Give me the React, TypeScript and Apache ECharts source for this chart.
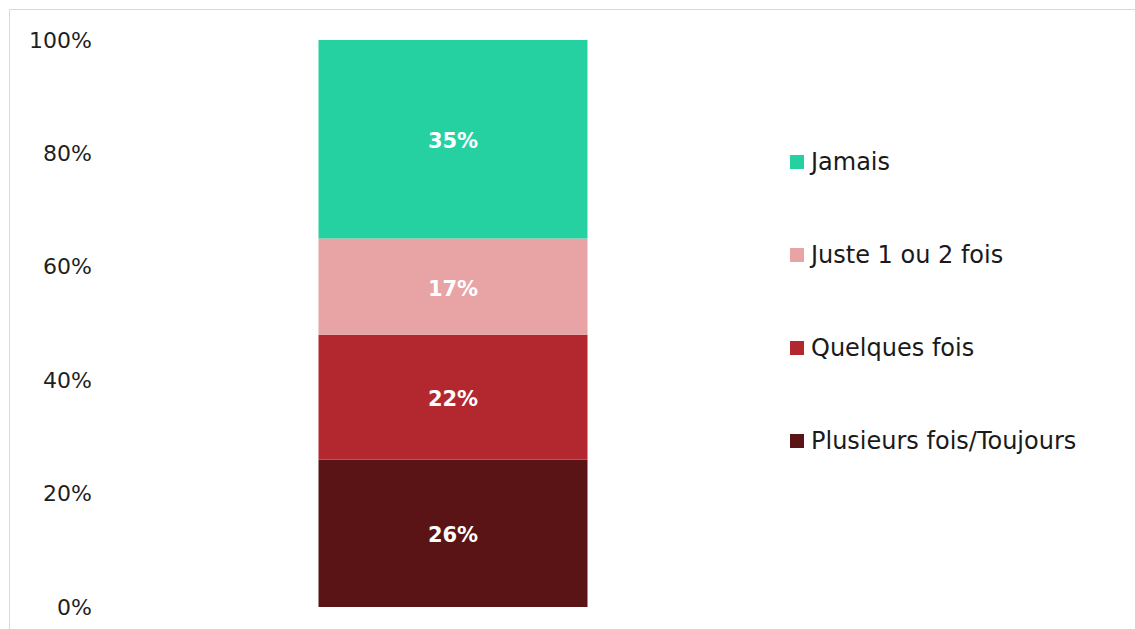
import React, { useEffect, useRef } from "react";
import * as echarts from "echarts";

const categories = [""];
const seriesNames = ["Plusieurs fois/Toujours", "Quelques fois", "Juste 1 ou 2 fois", "Jamais"];
const plusieursValues = [26];
const quelquesValues = [22];
const justeValues = [17];
const jamaisValues = [35];
const seriesColors = ["#5A1416", "#B3282E", "#E8A3A5", "#26D1A1"];
const legendOrder = ["Jamais", "Juste 1 ou 2 fois", "Quelques fois", "Plusieurs fois/Toujours"];

export default function App() {
  const ref = useRef<HTMLDivElement>(null);
  useEffect(() => {
    if (!ref.current) return;
    const chart = echarts.init(ref.current, undefined, { renderer: "svg" });
    const values = [plusieursValues, quelquesValues, justeValues, jamaisValues];
    const font = "DejaVu Sans";
    chart.setOption({
      animation: false,
      backgroundColor: "#ffffff",
      textStyle: { fontFamily: font },
      grid: { left: 100, right: 329, top: 40, bottom: 22, containLabel: false },
      xAxis: {
        type: "category",
        data: categories,
        axisLine: { show: false },
        axisTick: { show: false },
        axisLabel: { show: false },
      },
      yAxis: {
        type: "value",
        min: 0,
        max: 100,
        interval: 20,
        axisLine: { show: false },
        axisTick: { show: false },
        splitLine: { show: false },
        axisLabel: {
          formatter: "{value}%",
          fontSize: 22,
          color: "#1f1f1f",
          fontFamily: font,
          margin: 8,
        },
      },
      legend: {
        orient: "vertical",
        left: 790,
        top: 150,
        padding: 0,
        itemWidth: 14,
        itemHeight: 14,
        itemGap: 69,
        icon: "rect",
        data: legendOrder,
        textStyle: { fontSize: 24, color: "#1a1a1a", fontFamily: font, padding: [0, 0, 0, 2] },
      },
      series: seriesNames.map((name, i) => ({
        name,
        type: "bar",
        stack: "total",
        barWidth: 269,
        data: values[i],
        itemStyle: { color: seriesColors[i] },
        label: {
          show: true,
          position: "inside",
          formatter: "{c}%",
          color: "#ffffff",
          fontWeight: "bold",
          fontSize: 21,
          fontFamily: font,
          offset: [0, 2],
        },
      })),
      graphic: [
        {
          type: "line",
          shape: { x1: 9.5, y1: 9.5, x2: 1135, y2: 9.5 },
          style: { stroke: "#d9d9d9", lineWidth: 1 },
        },
        {
          type: "line",
          shape: { x1: 9.5, y1: 9.5, x2: 9.5, y2: 629 },
          style: { stroke: "#d9d9d9", lineWidth: 1 },
        },
      ],
    });
    return () => chart.dispose();
  }, []);
  return (
    <div
      ref={ref}
      style={{ position: "fixed", left: 0, top: 0, width: 1135, height: 629 }}
    />
  );
}
